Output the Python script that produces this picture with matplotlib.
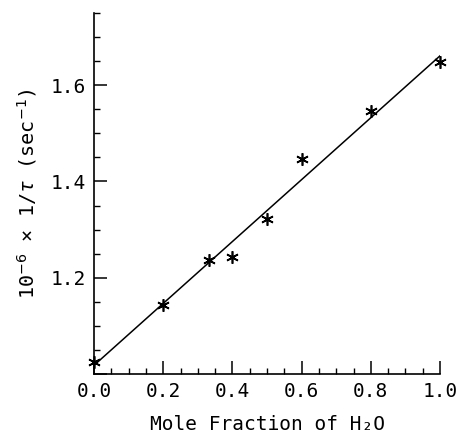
import matplotlib
matplotlib.use("Agg")
import matplotlib.pyplot as plt
from matplotlib.ticker import MultipleLocator, FormatStrFormatter, FuncFormatter

plt.rcParams['font.family'] = ['DejaVu Sans Mono', 'DejaVu Sans']
plt.rcParams['mathtext.fontset'] = 'custom'
plt.rcParams['mathtext.rm'] = 'DejaVu Sans Mono'
plt.rcParams['mathtext.it'] = 'DejaVu Sans Mono:italic'

# data
mole_fraction = [0.0, 0.2, 0.333, 0.4, 0.5, 0.6, 0.8, 1.0]
rate = [1.025, 1.144, 1.236, 1.243, 1.322, 1.447, 1.546, 1.648]
fit_x = [0.0, 1.0]
fit_y = [1.018, 1.661]

fig = plt.figure(figsize=(4.57, 4.34), dpi=100)
ax = fig.add_axes([94/457, 1-374/434, (440-94)/457, (374-13)/434])

ax.plot(fit_x, fit_y, color='black', lw=1.1)
ax.plot(mole_fraction, rate, linestyle='none', marker=(6, 2, 0),
        markersize=9, markeredgewidth=1.2, color='black', clip_on=False)

ax.set_xlim(0, 1.0)
ax.set_ylim(1.0, 1.75)
ax.xaxis.set_major_locator(MultipleLocator(0.2))
ax.xaxis.set_minor_locator(MultipleLocator(0.05))
ax.yaxis.set_major_locator(MultipleLocator(0.2))
ax.yaxis.set_minor_locator(MultipleLocator(0.05))
ax.xaxis.set_major_formatter(FormatStrFormatter('%.1f'))
ax.yaxis.set_major_formatter(FuncFormatter(
    lambda v, p: '' if abs(v - 1.0) < 1e-6 else f'{v:.1f}'))

for s in ['top', 'right']:
    ax.spines[s].set_visible(False)
for s in ['left', 'bottom']:
    ax.spines[s].set_linewidth(1.2)

ax.tick_params(which='major', direction='in', length=9.5, width=1.1,
               labelsize=14, pad=6)
ax.tick_params(which='minor', direction='in', length=4.5, width=1.0)
ax.tick_params(axis='y', which='both', right=False)
ax.tick_params(axis='x', which='both', top=False)

ax.set_xlabel('Mole Fraction of H₂O', fontsize=14, labelpad=10)
ax.set_ylabel(r'$10^{\mathsf{-6}}$ × 1/$\tau$ (sec$^{\mathsf{-1}}$)',
              fontsize=14.5, labelpad=8)

fig.savefig('out.png', dpi=100)
